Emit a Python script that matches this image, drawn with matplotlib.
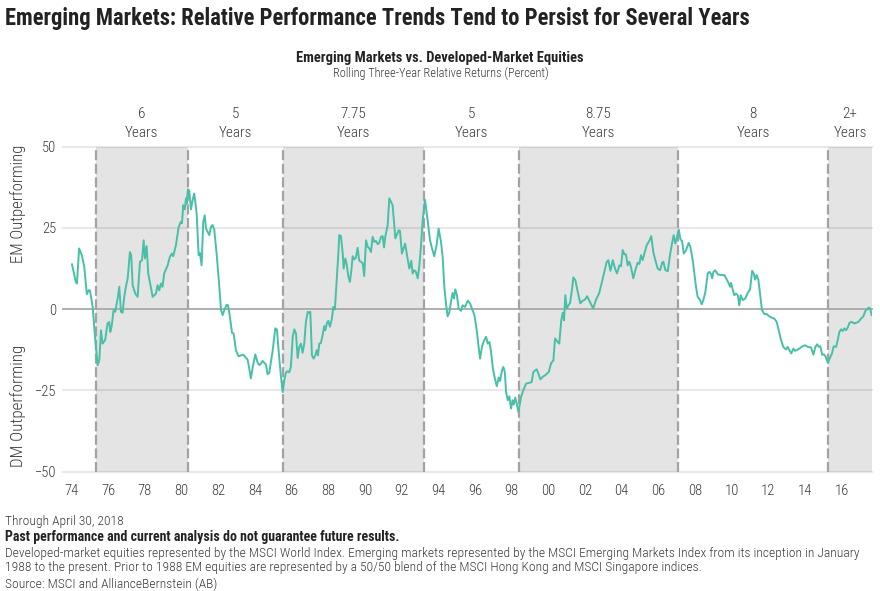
import matplotlib
matplotlib.use("Agg")
import matplotlib.pyplot as plt
from matplotlib import font_manager as fm
import matplotlib.transforms as mtransforms

# ---------------- data ----------------
dates = [
    1974.02, 1974.23, 1974.29, 1974.41, 1974.56, 1974.69, 1974.83, 1974.93, 1975.00, 1975.15,
    1975.29, 1975.42, 1975.51, 1975.60, 1975.69, 1975.83, 1975.96, 1976.05, 1976.11, 1976.18,
    1976.29, 1976.38, 1976.51, 1976.60, 1976.69, 1976.78, 1976.87, 1976.96, 1977.06, 1977.18,
    1977.25, 1977.33, 1977.47, 1977.60, 1977.73, 1977.84, 1977.93, 1978.00, 1978.09, 1978.18,
    1978.33, 1978.42, 1978.60, 1978.69, 1978.78, 1978.87, 1978.96, 1979.05, 1979.24, 1979.36,
    1979.47, 1979.54, 1979.69, 1979.84, 1979.96, 1980.02, 1980.09, 1980.17, 1980.24, 1980.27,
    1980.35, 1980.42, 1980.51, 1980.60, 1980.69, 1980.82, 1980.93, 1981.00, 1981.09, 1981.18,
    1981.26, 1981.33, 1981.42, 1981.51, 1981.60, 1981.69, 1981.78, 1981.91, 1982.05, 1982.15,
    1982.24, 1982.33, 1982.46, 1982.53, 1982.62, 1982.75, 1982.84, 1982.96, 1983.11, 1983.24,
    1983.36, 1983.47, 1983.60, 1983.69, 1983.78, 1983.88, 1984.02, 1984.15, 1984.24, 1984.33,
    1984.42, 1984.51, 1984.60, 1984.69, 1984.78, 1984.87, 1984.97, 1985.11, 1985.20, 1985.29,
    1985.42, 1985.51, 1985.60, 1985.69, 1985.78, 1985.87, 1985.96, 1986.06, 1986.15, 1986.24,
    1986.33, 1986.42, 1986.51, 1986.60, 1986.69, 1986.78, 1986.88, 1986.96, 1987.02, 1987.11,
    1987.20, 1987.29, 1987.37, 1987.44, 1987.51, 1987.60, 1987.69, 1987.78, 1987.84, 1987.93,
    1988.00, 1988.09, 1988.20, 1988.27, 1988.36, 1988.46, 1988.55, 1988.60, 1988.69, 1988.79,
    1988.84, 1988.93, 1989.00, 1989.09, 1989.18, 1989.26, 1989.33, 1989.42, 1989.51, 1989.60,
    1989.69, 1989.78, 1989.88, 1989.96, 1990.06, 1990.15, 1990.24, 1990.33, 1990.42, 1990.51,
    1990.60, 1990.70, 1990.78, 1990.88, 1990.97, 1991.04, 1991.11, 1991.24, 1991.33, 1991.51,
    1991.66, 1991.84, 1991.91, 1992.02, 1992.19, 1992.33, 1992.42, 1992.53, 1992.60, 1992.69,
    1992.78, 1992.88, 1992.97, 1993.06, 1993.15, 1993.28, 1993.42, 1993.55, 1993.66, 1993.78,
    1993.91, 1994.02, 1994.15, 1994.24, 1994.33, 1994.42, 1994.51, 1994.60, 1994.69, 1994.78,
    1994.86, 1994.93, 1995.02, 1995.11, 1995.24, 1995.33, 1995.46, 1995.61, 1995.73, 1995.88,
    1995.97, 1996.10, 1996.18, 1996.28, 1996.39, 1996.51, 1996.61, 1996.70, 1996.79, 1996.88,
    1996.97, 1997.06, 1997.19, 1997.30, 1997.37, 1997.48, 1997.55, 1997.63, 1997.70, 1997.79,
    1997.88, 1997.97, 1998.06, 1998.12, 1998.20, 1998.28, 1998.37, 1998.52, 1998.64, 1998.79,
    1998.93, 1999.10, 1999.18, 1999.29, 1999.37, 1999.46, 1999.57, 1999.70, 1999.84, 2000.03,
    2000.15, 2000.28, 2000.37, 2000.48, 2000.60, 2000.71, 2000.79, 2000.86, 2000.93, 2001.01,
    2001.10, 2001.19, 2001.30, 2001.37, 2001.48, 2001.61, 2001.75, 2001.88, 2002.01, 2002.12,
    2002.24, 2002.33, 2002.45, 2002.60, 2002.78, 2002.93, 2003.06, 2003.19, 2003.28, 2003.39,
    2003.52, 2003.64, 2003.75, 2003.88, 2003.97, 2004.06, 2004.15, 2004.24, 2004.33, 2004.42,
    2004.51, 2004.64, 2004.75, 2004.88, 2004.97, 2005.06, 2005.15, 2005.24, 2005.37, 2005.51,
    2005.62, 2005.73, 2005.84, 2005.97, 2006.10, 2006.21, 2006.28, 2006.39, 2006.52, 2006.64,
    2006.75, 2006.84, 2006.93, 2007.02, 2007.12, 2007.21, 2007.30, 2007.39, 2007.52, 2007.66,
    2007.75, 2007.88, 2007.97, 2008.06, 2008.15, 2008.28, 2008.37, 2008.46, 2008.57, 2008.70,
    2008.79, 2008.88, 2008.94, 2009.01, 2009.10, 2009.25, 2009.43, 2009.61, 2009.74, 2009.85,
    2009.92, 2009.97, 2010.06, 2010.15, 2010.24, 2010.34, 2010.42, 2010.50, 2010.61, 2010.75,
    2010.88, 2011.01, 2011.12, 2011.21, 2011.28, 2011.37, 2011.46, 2011.55, 2011.66, 2011.79,
    2011.92, 2012.06, 2012.19, 2012.33, 2012.46, 2012.57, 2012.70, 2012.82, 2012.97, 2013.06,
    2013.15, 2013.26, 2013.37, 2013.45, 2013.56, 2013.70, 2013.88, 2014.02, 2014.16, 2014.34,
    2014.46, 2014.57, 2014.67, 2014.76, 2014.84, 2014.94, 2015.03, 2015.12, 2015.26, 2015.37,
    2015.48, 2015.57, 2015.70, 2015.79, 2015.88, 2015.97, 2016.06, 2016.15, 2016.24, 2016.34,
    2016.43, 2016.56, 2016.70, 2016.79, 2016.92, 2017.06, 2017.19, 2017.30, 2017.39, 2017.48,
    2017.56, 2017.64,
]

relative_returns = [
    13.8, 8.4, 7.9, 18.7, 16.6, 13.0, 4.6, 5.8, 5.8, 0.7,
    -9.5, -17.2, -15.7, -6.5, -10.6, -9.5, -4.4, -3.9, -7.0, -5.4,
    -0.3, -0.8, 3.3, 6.9, -0.8, -1.1, 3.8, 6.9, 9.5, 17.6,
    16.6, 7.4, 4.8, 3.8, 14.6, 15.1, 21.2, 15.6, 19.4, 11.0,
    6.4, 3.8, 4.8, 7.4, 5.8, 7.9, 6.9, 11.0, 13.5, 16.1,
    17.1, 16.3, 19.7, 25.3, 26.9, 26.4, 32.0, 30.7, 34.1, 32.5,
    36.9, 36.4, 30.7, 33.6, 35.6, 29.5, 16.6, 17.3, 13.5, 26.9,
    28.9, 24.8, 23.8, 22.8, 25.3, 25.9, 24.5, 17.1, 7.4, -0.3,
    -1.8, -0.3, 1.4, 1.2, -1.8, -7.3, -7.5, -12.6, -14.5, -14.2,
    -14.0, -14.7, -15.5, -18.3, -21.3, -17.8, -13.9, -16.5, -17.2, -16.7,
    -15.9, -16.5, -17.0, -20.0, -19.6, -16.2, -12.6, -5.9, -6.2, -12.6,
    -20.8, -25.5, -21.9, -19.5, -19.1, -19.4, -17.8, -8.5, -6.2, -7.5,
    -15.0, -11.6, -10.6, -13.4, -10.6, -3.9, -0.8, -1.1, -0.8, -14.2,
    -15.2, -14.2, -12.6, -14.2, -10.6, -10.4, -8.0, -5.2, -6.5, -4.2,
    -3.6, -5.4, -2.9, 0.7, -0.1, 8.9, 17.1, 22.8, 22.5, 17.1,
    12.5, 15.6, 14.1, 10.2, 8.4, 12.0, 16.3, 15.3, 15.9, 18.9,
    14.9, 14.6, 14.1, 10.2, 21.2, 19.2, 18.7, 17.6, 22.3, 20.7,
    21.0, 20.0, 20.4, 22.3, 22.5, 19.0, 22.3, 25.9, 34.1, 32.0,
    21.8, 24.3, 24.1, 17.1, 20.2, 15.6, 12.5, 14.9, 11.0, 12.0,
    11.5, 9.5, 13.5, 19.7, 27.4, 33.6, 27.4, 21.2, 18.7, 16.3,
    19.7, 24.8, 20.7, 16.1, 6.9, 1.8, -2.2, -1.1, 2.2, 5.0,
    3.3, 6.1, 4.3, 0.2, -0.5, 1.2, 0.7, 2.6, 1.8, -0.5,
    -1.8, -6.5, -10.6, -15.2, -11.4, -9.5, -8.5, -10.6, -10.1, -13.1,
    -17.8, -20.6, -23.7, -21.0, -22.1, -18.8, -17.8, -19.3, -25.5, -28.0,
    -26.8, -30.6, -28.0, -29.3, -27.2, -29.0, -31.6, -27.0, -24.9, -22.9,
    -22.7, -22.4, -19.4, -18.8, -18.5, -19.8, -21.6, -20.8, -20.3, -19.3,
    -16.7, -15.7, -9.0, -9.8, -10.6, -3.4, -1.1, -3.4, 4.3, 0.2,
    1.2, 1.9, 6.4, 9.8, 8.9, 5.3, 1.8, 2.6, 3.0, 4.0,
    2.6, 1.5, 0.2, 2.8, 5.0, 8.4, 11.5, 14.6, 15.1, 11.8,
    15.1, 12.5, 11.0, 13.5, 13.2, 18.2, 16.9, 16.9, 13.5, 14.6,
    13.0, 9.5, 12.0, 14.3, 13.9, 16.6, 15.1, 17.1, 19.7, 21.0,
    22.5, 17.6, 15.1, 12.5, 12.0, 14.3, 14.6, 12.0, 11.7, 16.6,
    20.2, 22.8, 20.2, 22.1, 24.5, 21.5, 21.0, 17.1, 18.2, 20.4,
    19.2, 15.1, 11.0, 6.9, 3.8, 2.8, 1.5, 2.8, 5.3, 11.0,
    11.5, 10.8, 9.5, 11.5, 12.0, 10.7, 10.5, 10.5, 9.1, 7.9,
    6.9, 8.1, 6.1, 4.3, 4.8, 4.3, 1.2, 4.3, 2.8, 3.3,
    5.0, 6.1, 11.8, 11.0, 9.1, 10.5, 9.1, 4.8, -0.3, -1.5,
    -1.5, -2.2, -2.6, -2.9, -3.9, -6.5, -9.5, -11.6, -12.4, -11.6,
    -12.6, -13.6, -12.1, -12.8, -12.6, -12.1, -11.4, -11.1, -11.6, -11.8,
    -14.0, -11.6, -10.8, -11.6, -11.4, -14.0, -13.9, -14.5, -16.5, -14.9,
    -13.6, -11.4, -11.6, -9.5, -7.0, -6.2, -6.7, -5.9, -6.5, -5.6,
    -4.2, -3.9, -4.4, -4.2, -3.9, -2.9, -2.2, -0.5, -0.1, 0.5,
    0.2, -1.8,
]

# regime boundaries (dashed lines) and labels of each regime
regime_breaks = [1975.33, 1980.33, 1985.51, 1993.20, 1998.39, 2007.10, 2015.26]
regime_years = ["6", "5", "7.75", "5", "8.75", "8", "2+"]

year_ticks = list(range(1974, 2017, 2))
year_labels = [f"{y % 100:02d}" for y in year_ticks]
y_ticks = [50, 25, 0, -25, -50]

X_MIN, X_MAX = 1973.53, 2017.66

# ---------------- fonts ----------------
ttf = fm.fontManager.ttflist
names = {f.name for f in ttf}
FAM, STRETCH = None, "normal"
for cand in ["Roboto Condensed", "Liberation Sans Narrow", "Open Sans Condensed"]:
    if cand in names:
        FAM = cand
        break
if FAM is None:
    if any(f.name == "DejaVu Sans" and f.stretch == "condensed" for f in ttf):
        FAM, STRETCH = "DejaVu Sans", "condensed"
    elif "Roboto" in names:
        FAM = "Roboto"
    else:
        FAM = "DejaVu Sans"
FK = dict(fontfamily=FAM, fontstretch=STRETCH)
LIGHT = "light"

TEAL = "#48bfa8"
SHADE = "#e4e4e4"
DASH = "#a3a3a3"
TXT = "#222222"
TXT2 = "#3a3a3a"

W, H = 880, 591
fig = plt.figure(figsize=(W / 100, H / 100), dpi=100)
fig.patch.set_facecolor("white")

ax_left, ax_right, ax_top, ax_bot = 63, 872, 146.7, 471.7
ax = fig.add_axes([ax_left / W, 1 - ax_bot / H, (ax_right - ax_left) / W, (ax_bot - ax_top) / H])
ax.set_xlim(X_MIN, X_MAX)
ax.set_ylim(-50, 50)
for s in ax.spines.values():
    s.set_visible(False)
ax.set_facecolor("none")

# shaded regimes
bounds = regime_breaks + [X_MAX]
for i in range(0, len(regime_breaks), 2):
    ax.axvspan(bounds[i], bounds[i + 1], color=SHADE, lw=0, zorder=0)

# grid lines
for yv in y_ticks:
    if yv == 0:
        ax.axhline(yv, color="#a9a9a9", lw=1.3, zorder=1, clip_on=False)
    else:
        ax.axhline(yv, color="black", alpha=0.085, lw=1.6, zorder=1, clip_on=False)

# dashed regime boundaries
for b in regime_breaks:
    ax.axvline(b, color=DASH, lw=1.6, ls=(0, (4.5, 1.6)), zorder=2)

# data line
ax.plot(dates, relative_returns, color=TEAL, lw=1.4, zorder=3, solid_joinstyle="round")

# ticks
ax.set_xticks(year_ticks)
ax.set_xticklabels(year_labels, fontweight=LIGHT, **FK)
ax.set_yticks(y_ticks)
ax.set_yticklabels([str(v).replace("-", "\u2212") for v in y_ticks], fontweight=LIGHT, **FK)
ax.tick_params(axis="both", length=0, colors=TXT2, labelsize=10.5)
ax.tick_params(axis="x", pad=9)
ax.tick_params(axis="y", pad=5)

# regime labels above the plot
trans = mtransforms.blended_transform_factory(ax.transData, ax.transAxes)
for i, lab in enumerate(regime_years):
    xc = (bounds[i] + bounds[i + 1]) / 2
    ax.text(xc, (ax_bot - 114) / (ax_bot - ax_top), lab, transform=trans, ha="center",
            va="center", fontsize=11, fontweight=LIGHT, color=TXT2, **FK)
    ax.text(xc, (ax_bot - 133) / (ax_bot - ax_top), "Years", transform=trans, ha="center",
            va="center", fontsize=11, fontweight=LIGHT, color=TXT2, **FK)

# texts
def fy(py):
    return 1 - py / H

title = fig.text(5 / W, fy(18), "Emerging Markets: Relative Performance Trends Tend to Persist for Several Years",
                 ha="left", va="center", fontsize=16, fontweight="bold", color=TXT, **FK)
sub1 = fig.text(440 / W, fy(58), "Emerging Markets vs. Developed-Market Equities", ha="center", va="center",
                fontsize=10, fontweight="bold", color=TXT, **FK)
sub2 = fig.text(441 / W, fy(73), "Rolling Three-Year Relative Returns (Percent)", ha="center", va="center",
                fontsize=9, fontweight=LIGHT, color=TXT2, **FK)
yl1 = fig.text(18 / W, fy(204), "EM Outperforming", rotation=90, ha="center", va="center",
               fontsize=11, fontweight=LIGHT, color=TXT2, **FK)
yl2 = fig.text(18 / W, fy(406), "DM Outperforming", rotation=90, ha="center", va="center",
               fontsize=11, fontweight=LIGHT, color=TXT2, **FK)

foot_lines = [
    "Through April 30, 2018",
    "Past performance and current analysis do not guarantee future results.",
    "Developed-market equities represented by the MSCI World Index. Emerging markets represented by the MSCI "
    "Emerging Markets Index from its inception in January",
    "1988 to the present. Prior to 1988 EM equities are represented by a 50/50 blend of the MSCI Hong Kong "
    "and MSCI Singapore indices.",
    "Source: MSCI and AllianceBernstein (AB)",
]
foot_y = [521, 537, 553, 568, 584]
foot_bold = [False, True, False, False, False]
foot_texts = []
for txt, py, b in zip(foot_lines, foot_y, foot_bold):
    t = fig.text(5 / W, fy(py), txt, ha="left", va="center", fontsize=9,
                 fontweight="bold" if b else LIGHT, color=TXT if b else TXT2, **FK)
    foot_texts.append(t)

# fit text widths to the reference
fig.canvas.draw()
r = fig.canvas.get_renderer()

def fit(t, target, vertical=False):
    bb = t.get_window_extent(r)
    cur = bb.height if vertical else bb.width
    if cur > 0:
        t.set_fontsize(t.get_fontsize() * target / cur)

fit(title, 747)
fit(sub1, 287)
fit(sub2, 215)
fit(yl1, 118, vertical=True)
fit(yl2, 122, vertical=True)
fit(foot_texts[2], 850)
fit(foot_texts[1], 396)
for i in (0, 3, 4):
    foot_texts[i].set_fontsize(foot_texts[2].get_fontsize())

fig.savefig("out.png", dpi=100, facecolor="white")
